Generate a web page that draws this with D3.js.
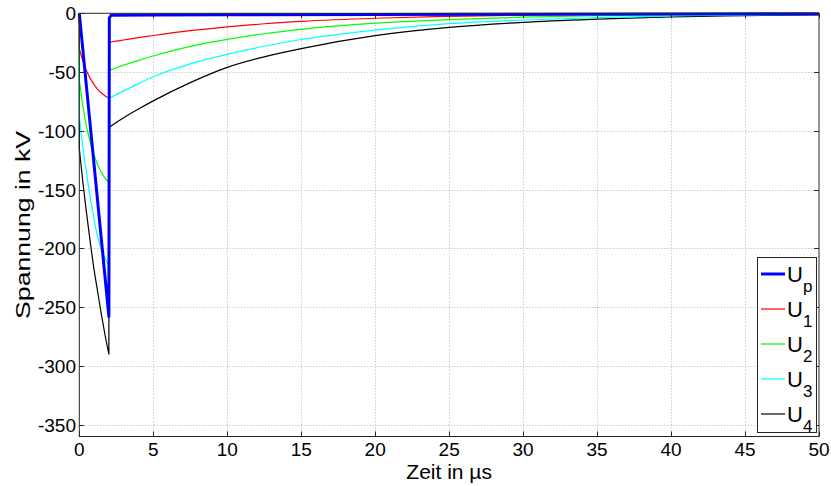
<!DOCTYPE html>
<html>
<head>
<meta charset="utf-8">
<script src="https://cdn.jsdelivr.net/npm/d3@7"></script>
<style>
  body { margin: 0; background: #fff; }
  svg { display: block; font-family: "Liberation Sans", Arial, sans-serif; }
  .grid line { stroke: #b4b4b4; stroke-width: 1; stroke-dasharray: 1,2; }
  .tick-label { font-size: 19px; fill: #000; }
</style>
</head>
<body>
<div id="chart"></div>
<script>
// Spannungsverlauf: Up and U1..U4 over time (µs), values in kV

var x_ticks = [0, 5, 10, 15, 20, 25, 30, 35, 40, 45, 50];
var y_ticks = [0, -50, -100, -150, -200, -250, -300, -350];

var names = ["p", "1", "2", "3", "4"];

// time points for Up
var time_p = [0, 0.5, 1, 1.5, 2, 2.03, 2.15, 5, 10, 20, 30, 40, 50];
var u_p = [0, -64.5, -129, -193.5, -258, -4, -1.6, -1.4, -1.2, -1, -0.8, -0.6, -0.4];

// time points for U1..U4 (a repeated time = jump, at t = 0 and t = 2)
var time_u = [0, 0, 0.25, 0.5, 0.75, 1, 1.25, 1.5, 1.75, 2, 2, 2.5, 3, 4, 5, 7.5, 10, 12.5, 15, 20, 25, 30, 35, 40, 45, 50];
var u_1 = [0, -30, -40.9, -49.3, -55.6, -60.7, -64.9, -67.8, -70.3, -72, -24.7, -23.7, -22.7, -20.7, -18.9, -14.8, -11.5, -8.9, -6.9, -4.2, -2.6, -1.6, -1, -0.6, -0.4, -0.25];
var u_2 = [0, -57, -79.6, -97, -110.1, -120.5, -129.2, -135.3, -140.5, -144, -48.6, -46.3, -44.1, -40, -36.3, -28.2, -22.2, -17.4, -13.6, -8.4, -5.3, -3.3, -2.1, -1.3, -0.8, -0.5];
var u_3 = [0, -87, -115.2, -136.9, -157.4, -175.3, -190.7, -200.9, -208.6, -215, -72.5, -69.2, -66, -59.8, -54, -43, -35, -28, -22.3, -14.3, -8.8, -5.7, -3.6, -2.3, -1.5, -1];
var u_4 = [0, -115, -144.8, -171, -195.5, -218.3, -237.5, -256.8, -274.3, -290, -97, -92.8, -88.8, -81.4, -74.5, -59, -46, -37, -30, -19, -12, -7.7, -5, -3, -2, -1.3];

var colors = ["#0000ff", "#ff0000", "#00ff00", "#00ffff", "#000000"];

var width = 831;
var height = 486;
var plotLeft = 79.3, plotRight = 819, plotTop = 13.3, plotBottom = 436.5;

var series = [
  {name: names[0], values: time_p.map((t, i) => ({t: t, v: u_p[i]}))},
  {name: names[1], values: time_u.map((t, i) => ({t: t, v: u_1[i]}))},
  {name: names[2], values: time_u.map((t, i) => ({t: t, v: u_2[i]}))},
  {name: names[3], values: time_u.map((t, i) => ({t: t, v: u_3[i]}))},
  {name: names[4], values: time_u.map((t, i) => ({t: t, v: u_4[i]}))}
];

/* Scale */
var xScale = d3.scaleLinear().domain([0, 50]).range([plotLeft, plotRight]);
var yScale = d3.scaleLinear().domain([-360, 0]).range([plotBottom, plotTop]);

var svg = d3.select("#chart").append("svg")
  .attr("width", width)
  .attr("height", height);

/* grid */
var grid = svg.append("g").attr("class", "grid");
grid.selectAll(".gx")
  .data(x_ticks.slice(1, -1)).enter()
  .append("line")
  .attr("x1", d => Math.round(xScale(d)) + 0.5)
  .attr("x2", d => Math.round(xScale(d)) + 0.5)
  .attr("y1", plotTop)
  .attr("y2", plotBottom);
grid.selectAll(".gy")
  .data(y_ticks.slice(1)).enter()
  .append("line")
  .attr("y1", d => Math.round(yScale(d)) + 0.5)
  .attr("y2", d => Math.round(yScale(d)) + 0.5)
  .attr("x1", plotLeft)
  .attr("x2", plotRight);

/* Add lines */
var smooth = d3.line()
  .x(d => xScale(d.t))
  .y(d => yScale(d.v))
  .curve(d3.curveMonotoneX);

var straight = d3.line()
  .x(d => xScale(d.t))
  .y(d => yScale(d.v));

// split at repeated times, draw every piece smooth and join them with vertical steps
function jumpPath(values) {
  var pieces = [[values[0]]];
  for (var i = 1; i < values.length; i++) {
    if (values[i].t === values[i - 1].t) pieces.push([]);
    pieces[pieces.length - 1].push(values[i]);
  }
  var d = "";
  pieces.forEach(function(p, k) {
    var s = p.length > 1 ? smooth(p) : straight(p);
    d += k === 0 ? s : s.replace(/^M/, "L");
  });
  return d;
}

var lines = svg.append("g").attr("class", "lines");

// U1..U4 first, Up on top
[4, 3, 2, 1, 0].forEach(function(i) {
  lines.append("path")
    .datum(series[i].values)
    .attr("fill", "none")
    .attr("stroke", colors[i])
    .attr("stroke-width", i === 0 ? 3 : 1.2)
    .attr("stroke-linejoin", "round")
    .attr("d", d => i === 0 ? straight(d) : jumpPath(d));
});

/* box and ticks */
var axisColor = "#262626";
svg.append("rect")
  .attr("x", plotLeft)
  .attr("y", plotTop)
  .attr("width", plotRight - plotLeft)
  .attr("height", plotBottom - plotTop)
  .attr("fill", "none")
  .attr("stroke", axisColor)
  .attr("stroke-width", 1);

var tickLen = 5;
var ticks = svg.append("g").attr("stroke", axisColor);
x_ticks.forEach(function(d) {
  var x = Math.round(xScale(d)) + 0.5;
  ticks.append("line").attr("x1", x).attr("x2", x).attr("y1", plotBottom).attr("y2", plotBottom - tickLen);
  ticks.append("line").attr("x1", x).attr("x2", x).attr("y1", plotTop).attr("y2", plotTop + tickLen);
});
y_ticks.forEach(function(d) {
  var y = Math.round(yScale(d)) + 0.5;
  ticks.append("line").attr("x1", plotLeft).attr("x2", plotLeft + tickLen).attr("y1", y).attr("y2", y);
  ticks.append("line").attr("x1", plotRight).attr("x2", plotRight - tickLen).attr("y1", y).attr("y2", y);
});

/* tick labels */
svg.selectAll(".xl")
  .data(x_ticks).enter()
  .append("text")
  .attr("class", "tick-label")
  .attr("x", d => xScale(d))
  .attr("y", 456)
  .attr("text-anchor", "middle")
  .text(d => d);

svg.selectAll(".yl")
  .data(y_ticks).enter()
  .append("text")
  .attr("class", "tick-label")
  .attr("x", 76)
  .attr("y", d => yScale(d) + 7)
  .attr("text-anchor", "end")
  .text(d => d);

/* axis titles */
svg.append("text")
  .attr("x", xScale(25))
  .attr("y", 479)
  .attr("text-anchor", "middle")
  .attr("font-size", "21px")
  .text("Zeit in µs");

svg.append("text")
  .attr("transform", "translate(30," + ((plotTop + plotBottom) / 2) + ") rotate(-90)")
  .attr("text-anchor", "middle")
  .attr("font-size", "21px")
  .attr("textLength", 188)
  .attr("lengthAdjust", "spacingAndGlyphs")
  .text("Spannung in kV");

/* legend */
var legend = svg.append("g").attr("class", "legend");
legend.append("rect")
  .attr("x", 757.5)
  .attr("y", 257.5)
  .attr("width", 59)
  .attr("height", 175)
  .attr("fill", "#fff")
  .attr("stroke", axisColor);

series.forEach(function(s, i) {
  var y = 274 + i * 35;
  legend.append("line")
    .attr("x1", 761)
    .attr("x2", 785)
    .attr("y1", y)
    .attr("y2", y)
    .attr("stroke", colors[i])
    .attr("stroke-width", i === 0 ? 3 : 1.2);
  var t = legend.append("text")
    .attr("x", 787)
    .attr("y", y + 8)
    .attr("font-size", "22px");
  t.append("tspan").text("U");
  t.append("tspan")
    .attr("dy", 10)
    .attr("font-size", "17px")
    .text(s.name);
});
</script>
</body>
</html>
